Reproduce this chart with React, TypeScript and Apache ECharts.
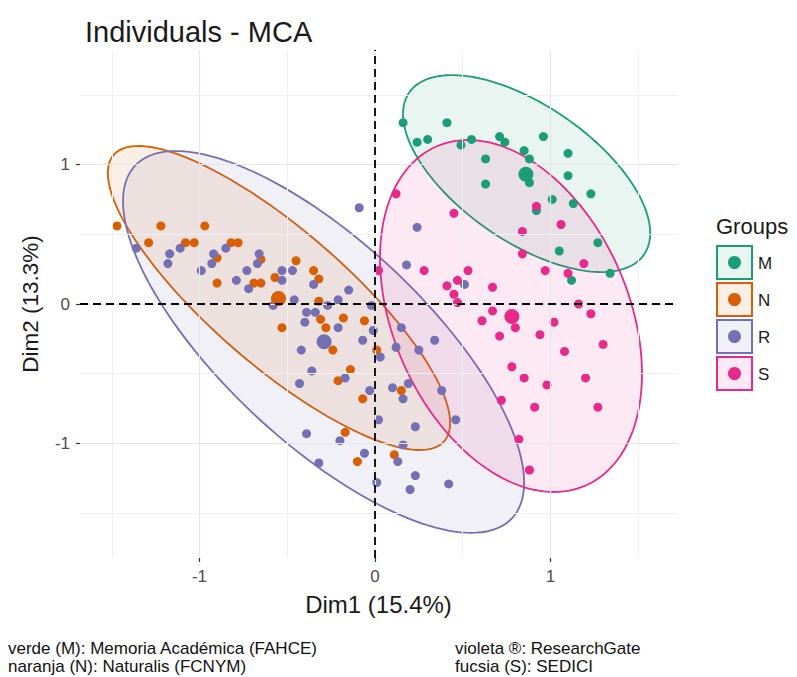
import React, { useEffect, useRef } from "react";
import * as echarts from "echarts";

const groups = ["M", "N", "R", "S"];
const groupColors = ["#1B9E77", "#D95F02", "#7570B3", "#E7298A"];

const pointsM: number[][] = [
  [0.16, 1.3], [0.41, 1.3], [0.24, 1.16], [0.3, 1.18], [0.49, 1.14], [0.55, 1.18],
  [0.71, 1.2], [0.74, 1.16], [0.96, 1.2], [0.85, 1.1], [0.88, 1.04], [1.1, 1.08],
  [0.63, 1.04], [0.88, 0.87], [0.63, 0.86], [1.1, 0.92], [1.23, 0.79], [1.01, 0.75],
  [1.13, 0.72], [0.92, 0.67], [1.05, 0.38], [1.27, 0.44], [1.12, 0.17], [1.34, 0.22],
];
const pointsN: number[][] = [
  [-1.47, 0.56], [-1.22, 0.56], [-0.97, 0.56], [-1.29, 0.44], [-1.08, 0.44], [-1.03, 0.44],
  [-0.9, 0.33], [-0.9, 0.15], [-0.82, 0.44], [-0.78, 0.44], [-0.65, 0.32], [-0.69, 0.15],
  [-0.65, 0.15], [-0.57, 0.19], [-0.45, 0.31], [-0.35, 0.24], [-0.32, 0.18], [-0.32, 0.02],
  [-0.53, -0.17], [-0.31, -0.11], [-0.28, -0.17], [-0.18, -0.1], [-0.06, -0.12], [-0.24, -0.33],
  [0.01, -0.33], [-0.14, -0.47], [-0.21, -0.55], [-0.07, -0.68], [-0.17, -0.92], [-0.1, -1.13],
  [0.15, -0.62], [0.11, -1.08],
];
const pointsR: number[][] = [
  [-0.09, 0.69], [-1.36, 0.4], [-1.17, 0.36], [-1.11, 0.4], [-1.18, 0.29], [-0.92, 0.36],
  [-0.93, 0.29], [-0.99, 0.24], [-0.85, 0.4], [-0.79, 0.17], [-0.73, 0.24], [-0.66, 0.36],
  [-0.67, 0.29], [-0.72, 0.11], [-0.53, 0.17], [-0.53, 0.24], [-0.47, 0.24], [-0.35, 0.14],
  [-0.15, 0.1], [-0.46, 0.03], [-0.21, 0.03], [-0.27, -0.01], [-0.02, -0.01], [-0.58, -0.01],
  [-0.39, -0.06], [-0.34, -0.06], [-0.4, -0.13], [-0.21, -0.17], [-0.01, -0.19], [-0.42, -0.33],
  [-0.07, -0.26], [-0.36, -0.48], [-0.17, -0.53], [-0.43, -0.57], [-0.03, -0.62], [-0.39, -0.93],
  [-0.2, -0.98], [-0.06, -1.07], [-0.32, -1.14], [0.01, -1.28], [0.02, -0.83], [0.03, -0.38],
  [0.15, -0.17], [0.12, -0.31], [0.25, -0.33], [0.34, -0.26], [0.1, -0.6], [0.16, -0.68],
  [0.19, -0.57], [0.38, -0.62], [0.23, -0.88], [0.46, -0.83], [0.16, -1.01], [0.13, -1.13],
  [0.23, -1.23], [0.2, -1.33], [0.42, -1.29], [0.24, 0.55], [0.18, 0.28], [0.51, 0.14],
];
const pointsS: number[][] = [
  [0.12, 0.79], [0.45, 0.65], [0.92, 0.7], [0.84, 0.52], [1.06, 0.57], [0.84, 0.36],
  [1.19, 0.29], [0.97, 0.24], [1.1, 0.22], [0.02, 0.24], [0.28, 0.24], [0.53, 0.24],
  [0.41, 0.13], [0.47, 0.17], [0.45, 0.07], [0.67, 0.12], [1.16, 0.0], [0.47, 0.01],
  [0.67, -0.05], [0.8, -0.17], [0.61, -0.12], [0.71, -0.23], [0.94, -0.22], [1.02, -0.13],
  [1.23, -0.07], [1.3, -0.29], [1.08, -0.34], [0.78, -0.45], [0.85, -0.53], [0.98, -0.58],
  [1.2, -0.53], [1.27, -0.74], [0.91, -0.74], [0.72, -0.69], [0.82, -0.97], [0.88, -1.19],
];
const groupPoints = [pointsM, pointsN, pointsR, pointsS];

const centroids: number[][] = [[0.86, 0.93], [-0.55, 0.04], [-0.29, -0.27], [0.78, -0.09]];

// ellipse: center, conjugate semi-axis vectors u and v (data units)
const ellipseCenters: number[][] = [[0.864, 0.935], [-0.547, 0.043], [-0.293, -0.272], [0.775, -0.086]];
const ellipseAxisU: number[][] = [[0.669, -0.581], [0.942, -1.026], [1.074, -1.264], [0.426, -1.215]];
const ellipseAxisV: number[][] = [[-0.22, -0.401], [-0.253, -0.367], [-0.391, -0.525], [-0.613, -0.34]];

const tickValues = [-1, 0, 1];
const gridValues = [-1.5, -1, -0.5, 0, 0.5, 1, 1.5];
const xRange = [-1.681, 1.721];
const yRange = [-1.821, 1.821];

const captionLeft = ["verde (M): Memoria Académica (FAHCE)", "naranja (N): Naturalis (FCNYM)"];
const captionRight = ["violeta ®: ResearchGate", "fucsia (S): SEDICI"];

function rgba(hex: string, a: number) {
  const n = parseInt(hex.slice(1), 16);
  return `rgba(${(n >> 16) & 255},${(n >> 8) & 255},${n & 255},${a})`;
}

export default function App() {
  const ref = useRef<HTMLDivElement>(null);
  useEffect(() => {
    document.body.style.margin = "0";
    const chart = echarts.init(ref.current!, null, { renderer: "svg" });
    const font = "'Liberation Sans', Arial, Helvetica, sans-serif";
    const gridLine = (v: number, axis: "xAxis" | "yAxis") => ({
      [axis]: v,
      lineStyle: {
        color: Number.isInteger(v) ? "#E6E6E6" : "#F0F0F0",
        width: Number.isInteger(v) ? 1.2 : 1,
        type: "solid",
      },
    });

    const legendItems: any[] = [
      {
        type: "text",
        left: 716,
        top: 215,
        style: { text: "Groups", font: `22px ${font}`, fill: "#1a1a1a" },
      },
    ];
    groups.forEach((g, i) => {
      const y0 = 246 + i * 37;
      legendItems.push({
        type: "rect",
        shape: { x: 717, y: y0, width: 35, height: 33 },
        style: { fill: rgba(groupColors[i], 0.1), stroke: groupColors[i], lineWidth: 2 },
      });
      legendItems.push({
        type: "circle",
        shape: { cx: 734.5, cy: y0 + 16.5, r: 6.5 },
        style: { fill: groupColors[i] },
      });
      legendItems.push({
        type: "text",
        x: 758,
        y: y0 + 17,
        style: { text: g, font: `17px ${font}`, fill: "#1a1a1a", verticalAlign: "middle" },
      });
    });
    const capFont = `17px ${font}`;
    captionLeft.forEach((t, i) => {
      legendItems.push({
        type: "text",
        x: 8,
        y: 648 + i * 18,
        style: { text: t, font: capFont, fill: "#111", verticalAlign: "middle" },
      });
    });
    captionRight.forEach((t, i) => {
      legendItems.push({
        type: "text",
        x: 455,
        y: 648 + i * 18,
        style: { text: t, font: capFont, fill: "#111", verticalAlign: "middle" },
      });
    });

    const axisCommon = {
      axisLine: { show: false, onZero: false },
      axisTick: {
        show: true,
        length: 4,
        customValues: tickValues,
        lineStyle: { color: "#333", width: 1.2 },
      },
      splitLine: { show: false },
    };

    chart.setOption({
      animation: false,
      backgroundColor: "#ffffff",
      title: {
        text: "Individuals - MCA",
        left: 80,
        top: 12,
        textStyle: { fontFamily: font, fontSize: 29, fontWeight: "normal", color: "#1a1a1a" },
      },
      grid: { left: 80, top: 50, width: 597, height: 508, containLabel: false },
      xAxis: {
        type: "value",
        min: xRange[0],
        max: xRange[1],
        ...axisCommon,
        axisLabel: {
          customValues: tickValues,
          fontFamily: font,
          fontSize: 17,
          color: "#4D4D4D",
          margin: 10,
        },
        name: "Dim1 (15.4%)",
        nameLocation: "middle",
        nameGap: 34,
        nameTextStyle: { fontFamily: font, fontSize: 24, color: "#1a1a1a" },
      },
      yAxis: {
        type: "value",
        min: yRange[0],
        max: yRange[1],
        ...axisCommon,
        axisLabel: {
          customValues: tickValues,
          fontFamily: font,
          fontSize: 17,
          color: "#4D4D4D",
          margin: 10,
        },
        name: "Dim2 (13.3%)",
        nameLocation: "middle",
        nameGap: 38,
        nameTextStyle: { fontFamily: font, fontSize: 22.5, color: "#1a1a1a" },
      },
      graphic: legendItems,
      series: [
        {
          type: "line",
          data: [],
          z: 0,
          silent: true,
          markLine: {
            silent: true,
            symbol: ["none", "none"],
            label: { show: false },
            animation: false,
            data: [
              ...gridValues.map((v) => gridLine(v, "xAxis")),
              ...gridValues.map((v) => gridLine(v, "yAxis")),
            ],
          },
        },
        {
          type: "custom",
          coordinateSystem: "cartesian2d",
          z: 1,
          silent: true,
          clip: false,
          encode: { x: 0, y: 1 },
          data: groups.map((g, i) => [
            ellipseCenters[i][0], ellipseCenters[i][1],
            ellipseAxisU[i][0], ellipseAxisU[i][1],
            ellipseAxisV[i][0], ellipseAxisV[i][1], i,
          ]),
          renderItem: (params: any, api: any) => {
            const cx = api.value(0), cy = api.value(1);
            const ux = api.value(2), uy = api.value(3);
            const vx = api.value(4), vy = api.value(5);
            const idx = api.value(6);
            const pts: number[][] = [];
            const N = 160;
            for (let k = 0; k < N; k++) {
              const t = (2 * Math.PI * k) / N;
              const c = Math.cos(t), s = Math.sin(t);
              pts.push(api.coord([cx + ux * c + vx * s, cy + uy * c + vy * s]));
            }
            return {
              type: "polygon",
              shape: { points: pts },
              style: { fill: rgba(groupColors[idx], 0.1), stroke: groupColors[idx], lineWidth: 1.8 },
            };
          },
        },
        {
          type: "line",
          data: [],
          z: 2,
          silent: true,
          markLine: {
            silent: true,
            symbol: ["none", "none"],
            label: { show: false },
            animation: false,
            lineStyle: { color: "#000", width: 1.8, type: [8, 5] },
            data: [{ xAxis: 0 }, { yAxis: 0 }],
          },
        },
        ...groups.map((g, i) => ({
          type: "scatter",
          name: g,
          z: 3,
          symbolSize: 9,
          itemStyle: { color: groupColors[i], opacity: 1 },
          data: groupPoints[i],
        })),
        {
          type: "scatter",
          name: "centroids",
          z: 4,
          symbolSize: 15,
          data: centroids.map((c, i) => ({ value: c, itemStyle: { color: groupColors[i], opacity: 1 } })),
        },
      ],
    });
    return () => chart.dispose();
  }, []);
  return <div ref={ref} style={{ width: 797, height: 677 }} />;
}
